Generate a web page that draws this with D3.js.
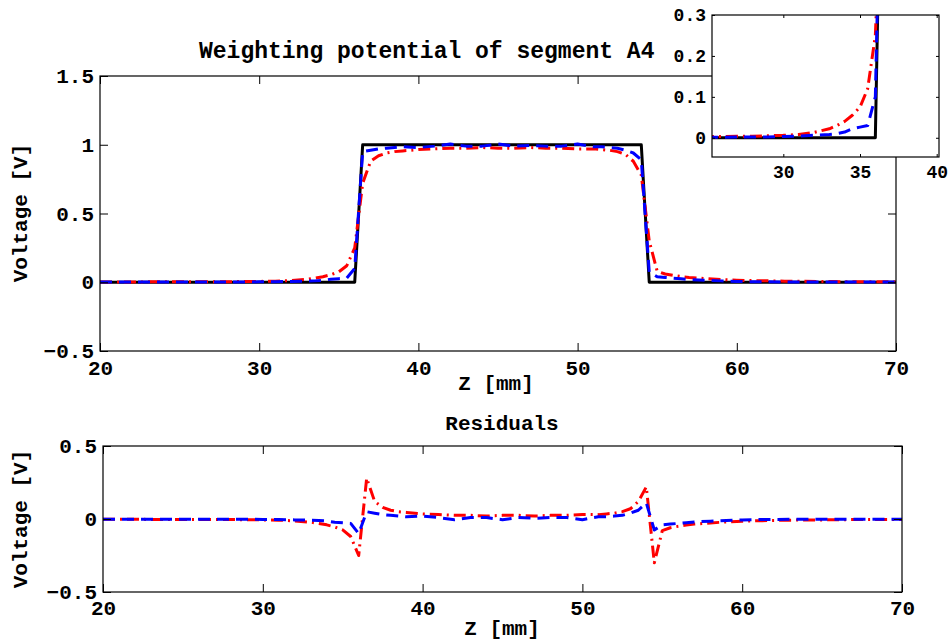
<!DOCTYPE html>
<html>
<head>
<meta charset="utf-8">
<script src="https://cdn.jsdelivr.net/npm/d3@7/dist/d3.min.js"></script>
<style>
  html, body { margin: 0; padding: 0; background: #fff; }
  svg { display: block; }
  text { font-family: "Liberation Mono", "Courier New", monospace; font-weight: bold; fill: #000; }
</style>
</head>
<body>
<svg id="chart" width="948" height="641"></svg>
<script>
// ---------------- data ----------------
const zMm = [20,21,22,23,24,25,26,27,28,29,30,31,32,33,
  33.5,34,34.5,35,35.5,36,
  36.5,37,37.5,38,38.5,
  39,40,41,42,43,44,45,46,47,48,49,50,51,
  51.5,52,52.5,53,53.5,54,
  54.5,55,55.5,56,56.5,57,
  58,59,60,61,62,63,64,65,66,67,68,69,70];

const idealV = [0,0,0,0,0,0,0,0,0,0,0,0,0,0,
  0,0,0,0,0,0,
  1,1,1,1,1,
  1,1,1,1,1,1,1,1,1,1,1,1,1,
  1,1,1,1,1,1,
  0,0,0,0,0,0,
  0,0,0,0,0,0,0,0,0,0,0,0,0];

const modelRed = [0.002,0.002,0.002,0.003,0.003,0.003,0.003,0.004,0.004,0.005,0.006,0.008,0.013,0.022,
  0.03,0.04,0.055,0.075,0.12,0.25,
  0.72,0.88,0.92,0.94,0.95,
  0.955,0.965,0.97,0.975,0.975,0.98,0.975,0.975,0.98,0.975,0.975,0.97,0.97,
  0.965,0.96,0.95,0.93,0.88,0.78,
  0.30,0.08,0.06,0.05,0.042,0.035,
  0.027,0.02,0.015,0.012,0.01,0.008,0.007,0.006,0.005,0.004,0.004,0.003,0.003];

const modelBlue = [0.001,0.001,0.001,0.001,0.001,0.001,0.001,0.002,0.002,0.002,0.003,0.004,0.006,0.008,
  0.01,0.014,0.022,0.026,0.03,0.1,
  0.95,0.96,0.97,0.975,0.98,
  0.985,0.98,0.99,1.005,0.99,0.99,1.005,0.99,0.995,0.99,0.99,1.005,0.985,
  0.985,0.98,0.975,0.96,0.94,0.89,
  0.075,0.04,0.035,0.03,0.025,0.02,
  0.015,0.01,0.006,0.004,0.003,0.002,0.002,0.001,0.001,0.001,0.001,0.001,0.001];

const residualRed = [-0.002,-0.002,-0.002,-0.003,-0.003,-0.003,-0.003,-0.004,-0.004,-0.005,-0.006,-0.008,-0.013,-0.022,
  -0.03,-0.04,-0.055,-0.075,-0.12,-0.25,
  0.28,0.12,0.08,0.06,0.05,
  0.045,0.035,0.03,0.025,0.025,0.02,0.025,0.025,0.02,0.025,0.025,0.03,0.03,
  0.035,0.04,0.05,0.07,0.12,0.22,
  -0.30,-0.08,-0.06,-0.05,-0.042,-0.035,
  -0.027,-0.02,-0.015,-0.012,-0.01,-0.008,-0.007,-0.006,-0.005,-0.004,-0.004,-0.003,-0.003];

const residualBlue = [-0.001,-0.001,-0.001,-0.001,-0.001,-0.001,-0.001,-0.002,-0.002,-0.002,-0.003,-0.004,-0.006,-0.008,
  -0.01,-0.014,-0.022,-0.026,-0.03,-0.1,
  0.05,0.04,0.03,0.025,0.02,
  0.015,0.02,0.01,-0.005,0.01,0.01,-0.005,0.01,0.005,0.01,0.01,-0.005,0.015,
  0.015,0.02,0.025,0.04,0.06,0.11,
  -0.075,-0.04,-0.035,-0.03,-0.025,-0.02,
  -0.015,-0.01,-0.006,-0.004,-0.003,-0.002,-0.002,-0.001,-0.001,-0.001,-0.001,-0.001,-0.001];

const mainXTicks = [20,30,40,50,60,70];
const mainYTicks = [-0.5,0,0.5,1,1.5];
const resYTicks = [-0.5,0,0.5];
const insetXTicks = [30,35,40];
const insetYTicks = [0,0.1,0.2,0.3];

const mainTitle = "Weighting potential of segment A4";
const resTitle = "Residuals";
const xLabel = "Z [mm]";
const yLabel = "Voltage [V]";

// ---------------- drawing ----------------
const svg = d3.select("#chart");
svg.append("rect").attr("width", 948).attr("height", 641).attr("fill", "#fff");

const fmt = d => (d < 0 ? "\u2212" : "") + String(Math.abs(d));

function panel(opts) {
  const {x0, x1, y0, y1, xDom, yDom, xTicks, yTicks, fontSize, tick, series, clipId, bg, xPad, yPad} = opts;
  const g = svg.append("g");
  const x = d3.scaleLinear().domain(xDom).range([x0, x1]);
  const y = d3.scaleLinear().domain(yDom).range([y1, y0]);
  if (bg) g.append("rect").attr("x", x0).attr("y", y0).attr("width", x1 - x0).attr("height", y1 - y0).attr("fill", "#fff");
  g.append("clipPath").attr("id", clipId).append("rect")
    .attr("x", x0).attr("y", y0).attr("width", x1 - x0).attr("height", y1 - y0);
  const lg = g.append("g").attr("clip-path", `url(#${clipId})`);
  series.forEach(s => {
    const line = d3.line().x((d, i) => x(zMm[i])).y(d => y(d));
    lg.append("path").datum(s.values).attr("d", line)
      .attr("fill", "none").attr("stroke", s.color).attr("stroke-width", s.width)
      .attr("stroke-dasharray", s.dash || null).attr("stroke-linejoin", "round");
  });
  const ax = (gen, tr) => {
    const a = g.append("g").attr("transform", tr).call(gen);
    a.select(".domain").remove();
    a.selectAll(".tick line").attr("stroke", "#000").attr("stroke-width", 1);
    a.selectAll("text").attr("font-size", fontSize).style("font-family", "'Liberation Mono', monospace").style("font-weight", "bold").attr("fill", "#000");
    return a;
  };
  ax(d3.axisBottom(x).tickValues(xTicks).tickSize(-tick).tickPadding(xPad).tickFormat(fmt), `translate(0,${y1})`);
  ax(d3.axisTop(x).tickValues(xTicks).tickSize(-tick).tickFormat(""), `translate(0,${y0})`);
  ax(d3.axisLeft(y).tickValues(yTicks).tickSize(-tick).tickPadding(yPad).tickFormat(fmt), `translate(${x0},0)`);
  ax(d3.axisRight(y).tickValues(yTicks).tickSize(-tick).tickFormat(""), `translate(${x1},0)`);
  g.append("rect").attr("x", x0).attr("y", y0).attr("width", x1 - x0).attr("height", y1 - y0)
    .attr("fill", "none").attr("stroke", "#000").attr("stroke-width", 1.2);
  return {g, x, y};
}

const redDash = "12,5,2,5";
const blueDash = "12,7";

// main plot
panel({
  x0: 100, x1: 896, y0: 76, y1: 351, xDom: [20, 70], yDom: [-0.5, 1.5],
  xTicks: mainXTicks, yTicks: mainYTicks, fontSize: 21, tick: 8, xPad: 9, yPad: 6, clipId: "cMain",
  series: [
    {values: idealV, color: "#000", width: 3},
    {values: modelRed, color: "#ff0000", width: 3, dash: redDash},
    {values: modelBlue, color: "#0000ff", width: 3, dash: blueDash}
  ]
});
svg.append("text").attr("x", 199).attr("y", 58).attr("text-anchor", "start").attr("font-size", 23).text(mainTitle);
svg.append("text").attr("x", 496).attr("y", 390).attr("text-anchor", "middle").attr("font-size", 21).text(xLabel);
svg.append("text").attr("transform", "translate(27,213) rotate(-90)").attr("text-anchor", "middle").attr("font-size", 21).text(yLabel);

// residual plot
panel({
  x0: 103, x1: 902, y0: 446, y1: 592, xDom: [20, 70], yDom: [-0.5, 0.5],
  xTicks: mainXTicks, yTicks: resYTicks, fontSize: 21, tick: 8, xPad: 8, yPad: 6, clipId: "cRes",
  series: [
    {values: residualRed, color: "#ff0000", width: 3, dash: redDash},
    {values: residualBlue, color: "#0000ff", width: 3, dash: blueDash}
  ]
});
svg.append("text").attr("x", 502).attr("y", 430).attr("text-anchor", "middle").attr("font-size", 21).text(resTitle);
svg.append("text").attr("x", 502).attr("y", 635).attr("text-anchor", "middle").attr("font-size", 21).text(xLabel);
svg.append("text").attr("transform", "translate(27,519) rotate(-90)").attr("text-anchor", "middle").attr("font-size", 21).text(yLabel);

// inset
panel({
  x0: 712, x1: 939, y0: 15, y1: 157, xDom: [25.35, 40.15], yDom: [-0.047, 0.3],
  xTicks: insetXTicks, yTicks: insetYTicks, fontSize: 18, tick: 3, xPad: 8, yPad: 6, clipId: "cInset", bg: true,
  series: [
    {values: idealV, color: "#000", width: 3},
    {values: modelRed, color: "#ff0000", width: 3, dash: redDash},
    {values: modelBlue, color: "#0000ff", width: 3, dash: blueDash}
  ]
});
</script>
</body>
</html>
